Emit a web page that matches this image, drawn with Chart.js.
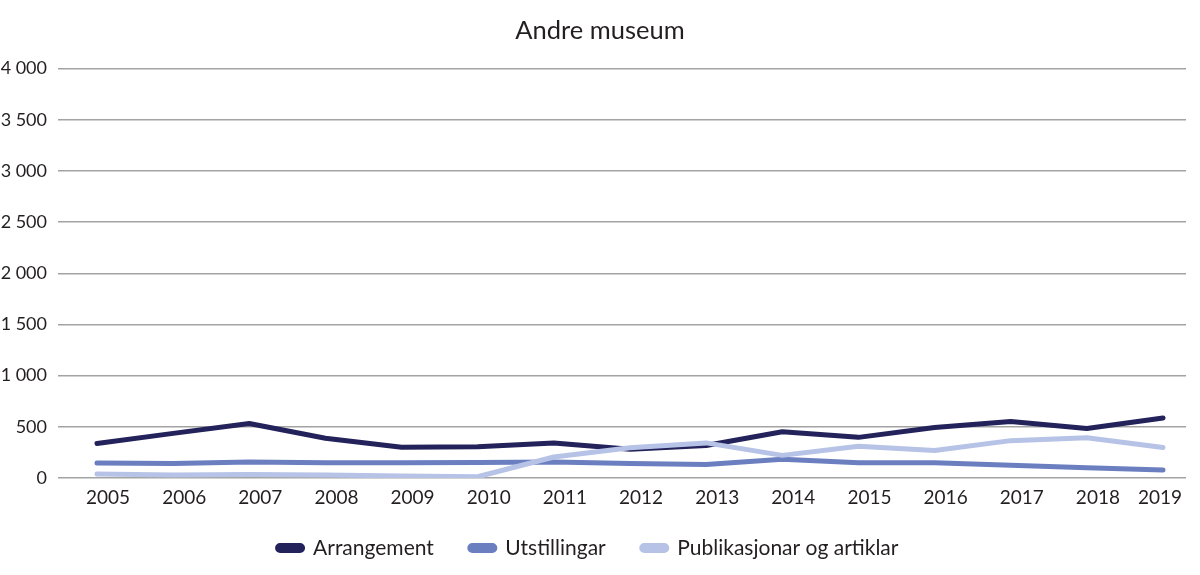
<!DOCTYPE html>
<html>
<head>
<meta charset="utf-8">
<script src="https://cdn.jsdelivr.net/npm/chart.js@4"></script>
<style>
  html, body { margin: 0; padding: 0; background: #fff; }
  #wrap { width: 1200px; height: 575px; }
</style>
</head>
<body>
<div id="wrap"><canvas id="c" width="1200" height="575"></canvas></div>
<script>
const years = [2005, 2006, 2007, 2008, 2009, 2010, 2011, 2012, 2013, 2014, 2015, 2016, 2017, 2018, 2019];
const arrangement = [337, 436, 532, 388, 300, 305, 343, 280, 317, 452, 397, 493, 551, 484, 587];
const utstillingar = [147, 141, 157, 150, 148, 152, 157, 141, 132, 183, 150, 150, 125, 99, 77];
const publikasjonar = [38, 30, 35, 30, 20, 12, 205, 295, 343, 221, 310, 269, 365, 394, 298];
const yTicks = [0, 500, 1000, 1500, 2000, 2500, 3000, 3500, 4000];
const titleText = 'Andre museum';

const FONT = 'Lato, "Open Sans", sans-serif';
const TEXT = '#231f20';

function pts(vals) { return years.map((y, i) => ({ x: y, y: vals[i] })); }
function fmt(v) { return String(v).replace(/\B(?=(\d{3})+(?!\d))/g, ' '); }

function ds(label, vals, color) {
  return {
    label, data: pts(vals), yAxisID: 'y',
    borderColor: color, backgroundColor: color,
    borderWidth: 5, pointRadius: 0, tension: 0,
    borderCapStyle: 'round', borderJoinStyle: 'round'
  };
}

// moves the legend block after layout so that wide item spacing does not shrink the plot
const legendShift = {
  id: 'legendShift',
  afterLayout(chart) {
    const l = chart.legend;
    if (!l) return;
    l.top -= 15.7; l.bottom -= 15.7;
    l.left -= 12; l.right -= 12;
  }
};

new Chart(document.getElementById('c'), {
  type: 'line',
  data: {
    datasets: [
      ds('Publikasjonar og artiklar', publikasjonar, '#b6c3e7'),
      ds('Utstillingar', utstillingar, '#6b7fc0'),
      ds('Arrangement', arrangement, '#23225b')
    ]
  },
  plugins: [legendShift],
  options: {
    responsive: false,
    animation: false,
    layout: { padding: { left: 0, right: 0, top: 0, bottom: -9.2 } },
    plugins: {
      tooltip: { enabled: false },
      title: {
        display: true, text: titleText, color: TEXT,
        font: { family: FONT, size: 25.5, weight: 'normal' },
        padding: { top: 15, bottom: 23 }
      },
      legend: {
        position: 'bottom', reverse: true,
        labels: {
          color: TEXT, font: { family: FONT, size: 21 },
          boxWidth: 25, boxHeight: 5, useBorderRadius: true, borderRadius: 2.5,
          padding: 36
        }
      }
    },
    scales: {
      x: {
        type: 'linear', min: 2004.488, max: 2019.302,
        afterBuildTicks: (axis) => {
          axis.ticks = years.map((y, i) => ({ value: y + (i === years.length - 1 ? -0.04 : 0.145) }));
        },
        ticks: {
          color: TEXT, font: { family: FONT, size: 19 }, padding: 8.2,
          maxRotation: 0, autoSkip: false,
          callback: (v) => String(Math.round(v))
        },
        grid: { display: false, drawTicks: false },
        border: { display: false }
      },
      y: {
        min: 0, max: 4000,
        afterBuildTicks: (axis) => { axis.ticks = yTicks.map(v => ({ value: v })); },
        afterFit: (axis) => { axis.width = 58; },
        ticks: {
          color: TEXT, font: { family: FONT, size: 18 }, padding: 11,
          callback: (v) => fmt(v)
        },
        grid: { color: '#a3a3a3', lineWidth: 1.4, drawTicks: false },
        border: { display: false }
      },
      yRight: {
        position: 'right', min: 0, max: 4000,
        afterFit: (axis) => { axis.width = 14; },
        ticks: { display: false },
        grid: { display: false, drawTicks: false },
        border: { display: false }
      }
    }
  }
});
</script>
</body>
</html>
